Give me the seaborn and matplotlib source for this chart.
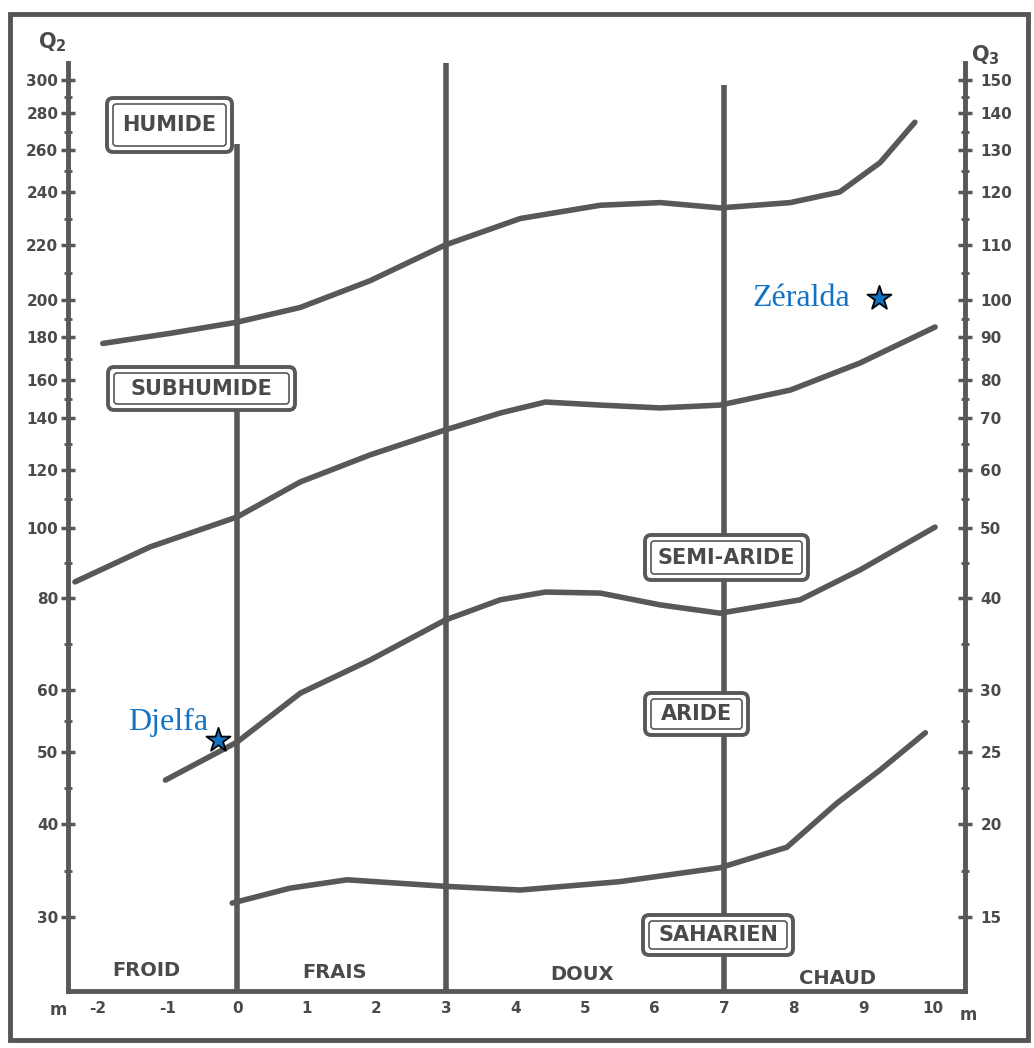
import numpy as np
import pandas as pd
import matplotlib
matplotlib.use("Agg")
import matplotlib.pyplot as plt
import seaborn as sns
from matplotlib.patches import FancyBboxPatch, Rectangle

# graduation of the (hand drawn) Q2 axis, right axis gives Stewart's Q3 at same heights
q2_ticks = [30, 40, 50, 60, 80, 100, 120, 140, 160, 180, 200, 220, 240, 260, 280, 300]
q3_labels = ['15', '20', '25', '30', '40', '50', '60', '70', '80', '90',
             '100', '110', '120', '130', '140', '150']
m_ticks = list(range(-2, 11))

# limits between bioclimatic stages (m in degC, Q2)
lim_humide_m = [-1.93, -0.96, 0, 0.91, 1.91, 2.99, 4.07, 5.22, 6.08, 6.94, 7.95, 8.66, 9.24, 9.74]
lim_humide_q2 = [177, 182, 188, 196, 207, 220, 230, 235, 236, 234, 236, 240, 254, 275]

lim_subhumide_m = [-2.33, -1.25, 0, 0.91, 1.91, 2.99, 3.78, 4.43, 5.22, 6.08, 6.94, 7.95, 8.95, 10.03]
lim_subhumide_q2 = [84.6, 94.6, 103.8, 115.9, 125.8, 135.4, 142.6, 148.4, 146.8, 145.3, 146.8, 154.7, 167.9, 185.4]

lim_semiaride_m = [-1.03, 0, 0.91, 1.91, 2.99, 3.78, 4.43, 5.22, 6.08, 6.94, 8.09, 8.95, 10.03]
lim_semiaride_q2 = [46.1, 51.6, 59.5, 66.5, 75.2, 79.6, 81.7, 81.4, 78.5, 76.7, 79.6, 88.0, 100.3]

lim_aride_m = [-0.07, 0.76, 1.58, 2.99, 4.07, 5.50, 6.94, 7.90, 8.62, 9.24, 9.89]
lim_aride_q2 = [31.5, 33.1, 34.0, 33.3, 32.9, 33.8, 35.3, 37.5, 42.9, 47.5, 53.1]

# winter variants boundaries
variant_m = [0, 3, 7]
variant_top = [263, 310, 297]
variants = ['FROID', 'FRAIS', 'DOUX', 'CHAUD']

stages = ['HUMIDE', 'SUBHUMIDE', 'SEMI-ARIDE', 'ARIDE', 'SAHARIEN']

stations = ['Djelfa', 'Zéralda']
station_m = [-0.27, 9.22]
station_q2 = [51.9, 200.7]

# pixel layout of the scanned graduation
scale_q = [20, 30, 40, 50, 60, 80, 100, 120, 140, 160, 180, 200, 220, 240, 260, 280, 300, 320]
scale_px = [1010, 917, 824, 752, 690, 598, 528, 470, 418, 380, 337, 300, 245, 192, 150, 113, 80, 45]


def fwd(q):
    return -np.interp(q, scale_q, scale_px)


def inv(t):
    return np.interp(-np.asarray(t), scale_px[::-1], scale_q[::-1])


sns.set_style('white')
plt.rcParams['font.family'] = ['DejaVu Sans']

INK = '#585858'
BLUE = '#1472c4'
W, H = 1034, 1048

fig = plt.figure(figsize=(W / 100, H / 100), dpi=100)
ax = fig.add_axes([68 / W, (H - 991.4) / H, 897 / W, (991.4 - 62.5) / H])
ax.set_yscale('function', functions=(fwd, inv))

frames = []
for name, mm, qq in [('humide', lim_humide_m, lim_humide_q2),
                     ('subhumide', lim_subhumide_m, lim_subhumide_q2),
                     ('semiaride', lim_semiaride_m, lim_semiaride_q2),
                     ('aride', lim_aride_m, lim_aride_q2)]:
    frames.append(pd.DataFrame({'m': mm, 'Q2': qq, 'limite': name}))
df = pd.concat(frames, ignore_index=True)

sns.lineplot(data=df, x='m', y='Q2', units='limite', estimator=None, sort=False,
             color=INK, lw=4, ax=ax, legend=False,
             solid_joinstyle='round', solid_capstyle='round')
ax.vlines(variant_m, 22, variant_top, color=INK, lw=4, zorder=2)

sns.scatterplot(x=station_m, y=station_q2, marker='*', s=330, color=BLUE,
                edgecolor='black', linewidth=1.3, zorder=6, ax=ax)
offsets = [(-36, 13), (-56, 0)]
for name, mm, qq, off in zip(stations, station_m, station_q2, offsets):
    ax.annotate(name, (mm, qq), xytext=off, textcoords='offset points',
                ha='center', va='center', color=BLUE, fontsize=23,
                family='Liberation Serif')

ax.set_xlim(-2.43, 10.46)
ax.set_ylim(22, 310)

ax.set_yticks(q2_ticks)
ax.set_yticklabels([str(v) for v in q2_ticks])
ax.set_yticks([35, 45, 55, 70, 90, 110, 130, 150, 170, 190, 210, 230, 250, 270, 290], minor=True)
ax.set_xticks(m_ticks)
ax.set_xticklabels([str(v) for v in m_ticks])
ax.set_xticks(np.arange(-1.5, 10.5, 1), minor=True)
ax.set_xlabel('')
ax.set_ylabel('')

for sp in ['top', 'right']:
    ax.spines[sp].set_visible(False)
for sp in ['left', 'bottom']:
    ax.spines[sp].set_color(INK)
    ax.spines[sp].set_linewidth(3.5)
ax.tick_params(which='major', direction='inout', length=10, width=2.5, color=INK,
               labelsize=11, labelcolor='#4a4a4a', pad=2)
ax.tick_params(which='minor', direction='inout', length=6, width=2, color=INK)
for lab in ax.get_xticklabels() + ax.get_yticklabels():
    lab.set_fontweight('bold')

ax2 = ax.twinx()
ax2.set_yscale('function', functions=(fwd, inv))
ax2.set_ylim(22, 310)
ax2.set_yticks(q2_ticks)
ax2.set_yticklabels(q3_labels, fontweight='bold')
ax2.set_yticks([35, 45, 55, 70, 90, 110, 130, 150, 170, 190, 210, 230, 250, 270, 290], minor=True)
for sp in ['top', 'left', 'bottom']:
    ax2.spines[sp].set_visible(False)
ax2.spines['right'].set_color(INK)
ax2.spines['right'].set_linewidth(3.5)
ax2.tick_params(which='major', direction='inout', length=10, width=2.5, color=INK,
                labelsize=11, labelcolor='#4a4a4a', pad=6)
ax2.tick_params(which='minor', direction='inout', length=6, width=2, color=INK)


def fx(px):
    return px / W


def fy(py):
    return 1 - py / H


# stage boxes (pixel boxes of the scan)
boxes = [(107, 98, 232, 152), (108, 367, 295, 410), (645, 535, 808, 580),
         (645, 693, 748, 735), (643, 915, 793, 955)]
for name, (x0, y0, x1, y1) in zip(stages, boxes):
    outer = FancyBboxPatch((fx(x0), fy(y1)), fx(x1) - fx(x0), fy(y0) - fy(y1),
                           boxstyle='round,pad=0,rounding_size=0.006',
                           transform=fig.transFigure, facecolor='white',
                           edgecolor=INK, lw=2.8, zorder=8)
    inner = FancyBboxPatch((fx(x0 + 6), fy(y1 - 6)), fx(x1 - x0 - 12), fy(y0 + 6) - fy(y1 - 6),
                           boxstyle='round,pad=0,rounding_size=0.003',
                           transform=fig.transFigure, facecolor='none',
                           edgecolor=INK, lw=1.2, zorder=9)
    fig.patches.extend([outer, inner])
    fig.text(fx((x0 + x1) / 2), fy((y0 + y1) / 2), name, ha='center', va='center',
             fontsize=15, fontweight='bold', color='#4a4a4a', zorder=10)

for name, (px, py) in zip(variants, [(146, 970), (335, 972), (582, 975), (838, 978)]):
    fig.text(fx(px), fy(py), name, ha='center', va='center', fontsize=14,
             fontweight='bold', color='#4a4a4a')

fig.text(fx(52), fy(42), r'$\mathbf{Q_2}$', ha='center', va='center', fontsize=15, color='#4a4a4a')
fig.text(fx(985), fy(55), r'$\mathbf{Q_3}$', ha='center', va='center', fontsize=15, color='#4a4a4a')
fig.text(fx(58), fy(1010), 'm', ha='center', va='center', fontsize=12, fontweight='bold', color='#4a4a4a')
fig.text(fx(968), fy(1015), 'm', ha='center', va='center', fontsize=12, fontweight='bold', color='#4a4a4a')

fig.patches.append(Rectangle((fx(10), fy(1040)), fx(1018), fy(14) - fy(1040),
                             transform=fig.transFigure, fill=False, edgecolor='#555555', lw=3.5))

fig.savefig('out.png', dpi=100, facecolor='white')
